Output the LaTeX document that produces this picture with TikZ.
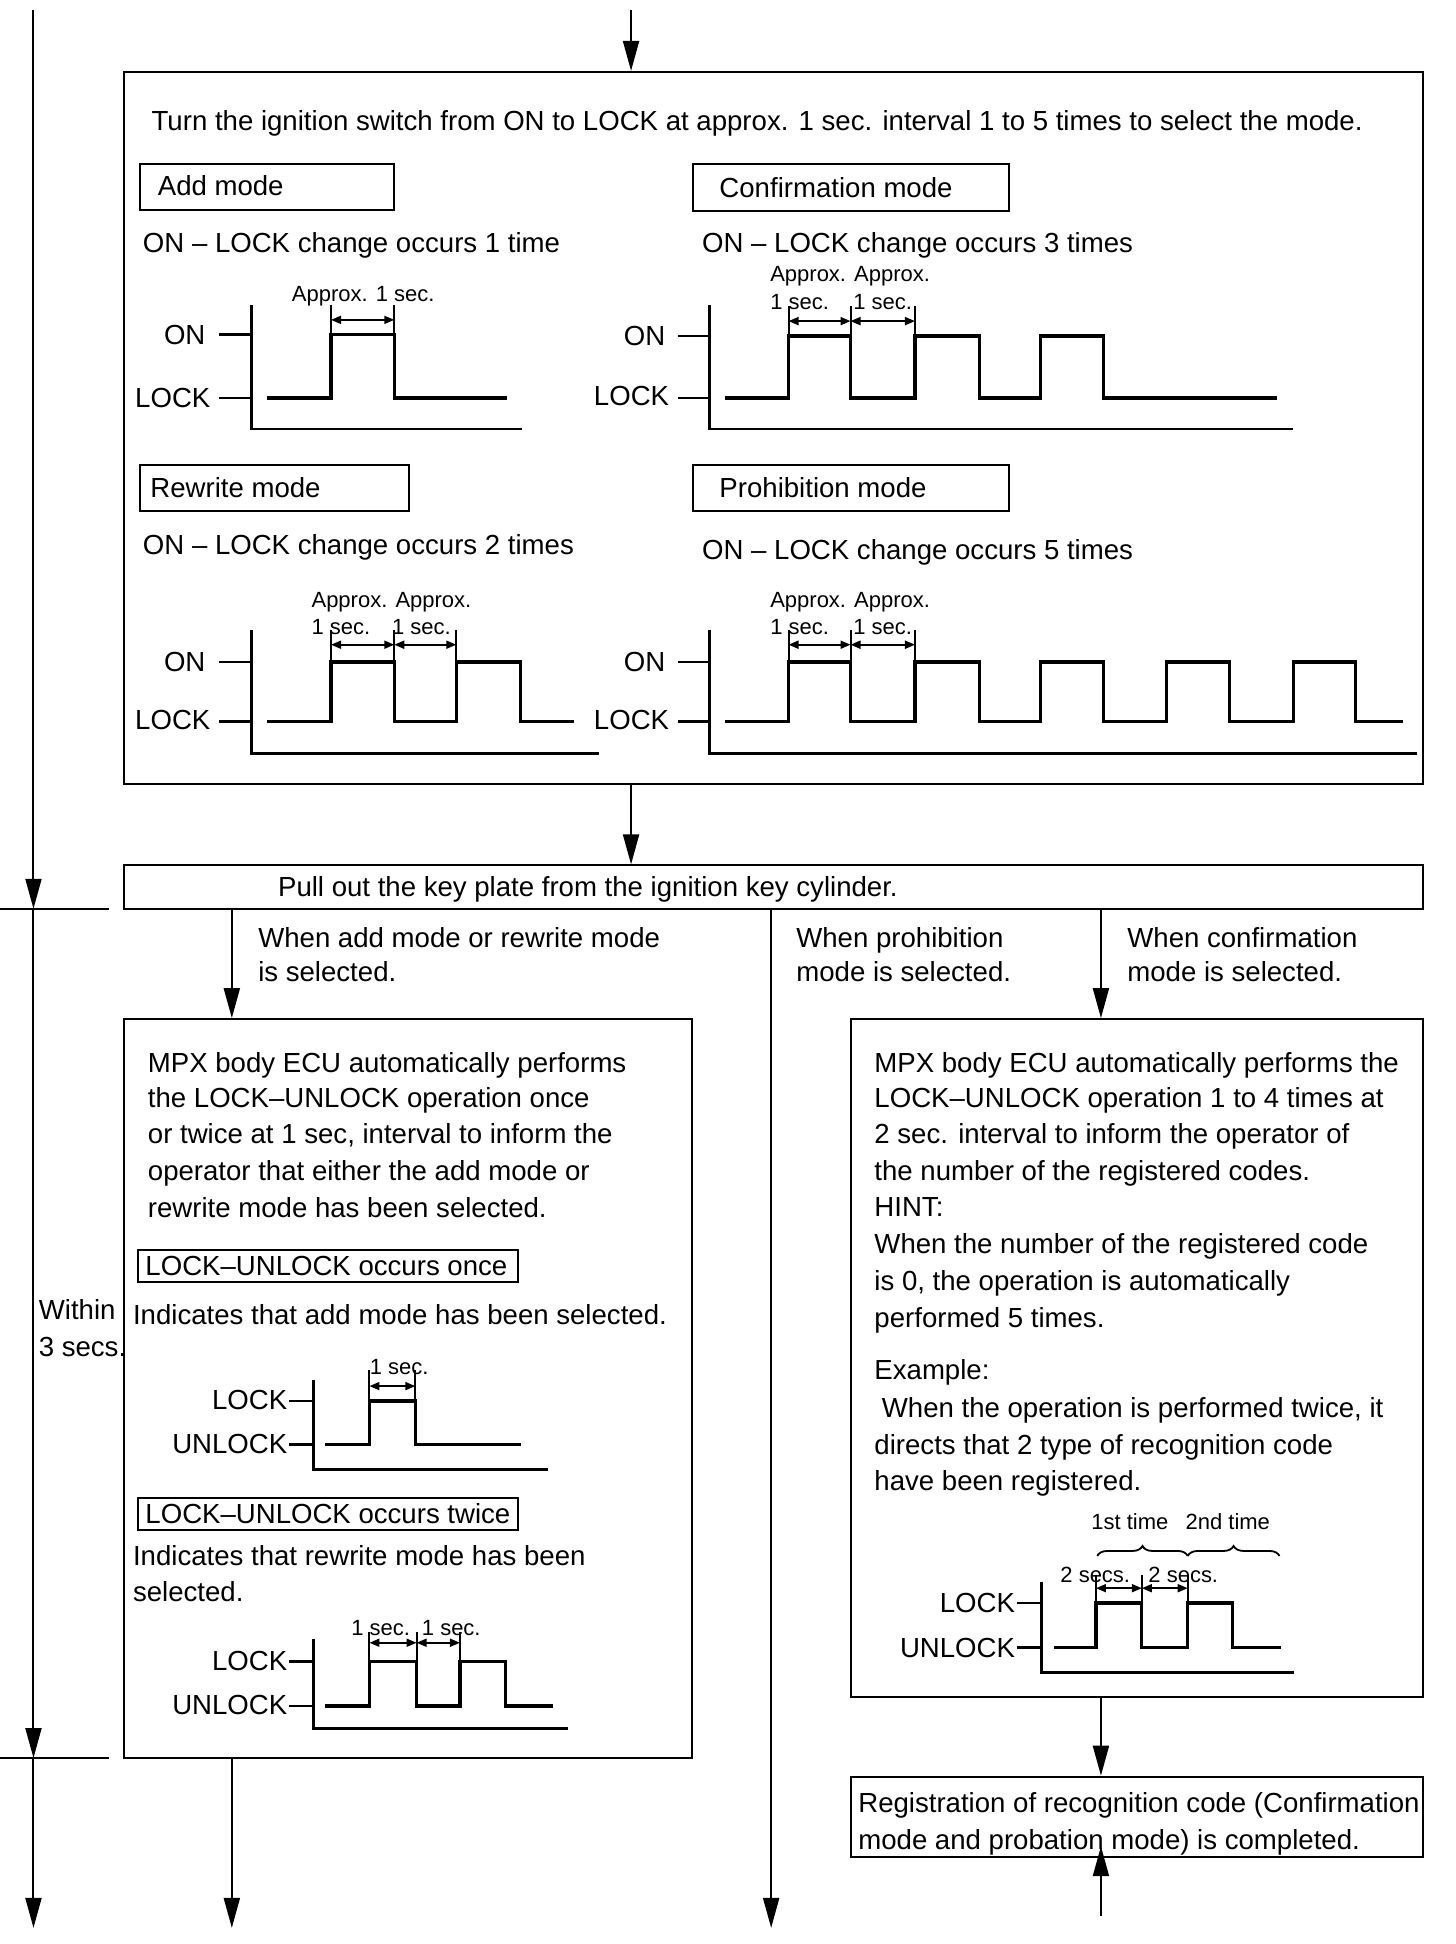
\documentclass[tikz,border=0pt]{standalone}
\usepackage{fontspec}
\setmainfont{Liberation Sans}
\usetikzlibrary{arrows.meta,fit,decorations.pathreplacing}
\newcommand\fmain{\fontsize{13.8}{17}\selectfont}
\newcommand\fsmall{\fontsize{11}{13}\selectfont}
\tikzset{
  bx/.style={draw, line width=1pt, inner sep=0pt},
  tx/.style={anchor=base west, inner sep=0pt, font=\fmain},
  txr/.style={anchor=base east, inner sep=0pt, font=\fmain},
  sm/.style={anchor=base west, inner sep=0pt, font=\fsmall},
  conn/.style={line width=1pt, -{Triangle[length=15pt,width=8pt]}},
  plain/.style={line width=1pt},
  wave/.style={line width=1.6pt, line join=miter},
  axisl/.style={line width=1.4pt},
  mkline/.style={line width=1pt},
  dimarr/.style={line width=0.9pt, {Triangle[length=5pt,width=4pt]}-{Triangle[length=5pt,width=4pt]}},
  brc/.style={line width=0.9pt, decorate, decoration={brace, amplitude=5pt}}
}
\begin{document}
\begin{tikzpicture}[x=0.6201pt,y=-0.6201pt]
\useasboundingbox (0,0) rectangle (1174,1568);
% ---------- boxes
\node[bx, fit={(100,58)(1148,632)}] (main) {};
\node[bx, fit={(100,698)(1148,733)}] (key) {};
\node[bx, fit={(100,822)(558,1418)}] (ecuL) {};
\node[bx, fit={(686,822)(1148,1369)}] (ecuR) {};
\node[bx, fit={(686,1433)(1148,1498)}] (done) {};
\node[bx, fit={(113,132)(318,169)}] (addb) {};
\node[bx, fit={(559,132)(814,170)}] (confb) {};
\node[bx, fit={(113,375)(330,412)}] (rewb) {};
\node[bx, fit={(559,375)(814,412)}] (prohb) {};
\node[bx, fit={(111,1008)(418,1034)}] (onceb) {};
\node[bx, fit={(111,1208)(418,1234)}] (twiceb) {};
% ---------- connectors
\coordinate (tin) at (509,8);
\draw[conn] (tin) -- (tin |- main.north);
\draw[conn] (main.south -| tin) -- (key.north -| tin);
\coordinate (lin) at (27,8);
\coordinate (lA) at (27,733);
\coordinate (lB) at (27,1418);
\coordinate (lC) at (27,1555);
\draw[conn] (lin) -- (lA);
\draw[conn] (lA) -- (lB);
\draw[conn] (lB) -- (lC);
\coordinate (hA1) at (0,733); \coordinate (hA2) at (88,733);
\coordinate (hB1) at (0,1418); \coordinate (hB2) at (88,1418);
\draw[plain] (hA1) -- (hA2);
\draw[plain] (hB1) -- (hB2);
\coordinate (bL) at (187,0);
\coordinate (bLend) at (187,1555);
\draw[conn] (key.south -| bL) -- (ecuL.north -| bL);
\draw[conn] (ecuL.south -| bL) -- (bLend);
\coordinate (pend) at (622,1555);
\draw[conn] (key.south -| pend) -- (pend);
\coordinate (bR) at (888,0);
\draw[conn] (key.south -| bR) -- (ecuR.north -| bR);
\draw[conn] (ecuR.south -| bR) -- (done.north -| bR);
\coordinate (upin) at (888,1545);
\coordinate (dbot) at ([yshift=6pt]done.south);
\draw[conn] (upin) -- (dbot -| upin);
% ---------- top box texts
\node[tx] (t1) at (122,105) {Turn the ignition switch from ON to LOCK at approx. 1 sec. interval 1 to 5 times to select the mode.};
\node[tx] (tadd) at (127,158) {Add mode};
\node[tx] (tconf) at (580,159) {Confirmation mode};
\node[tx] (trew) at (121,401) {Rewrite mode};
\node[tx] (tproh) at (580,401) {Prohibition mode};
\node[tx] (c1) at (115,204) {ON -- LOCK change occurs 1 time};
\node[tx] (c3) at (566,204) {ON -- LOCK change occurs 3 times};
\node[tx] (c2) at (115,447) {ON -- LOCK change occurs 2 times};
\node[tx] (c5) at (566,451) {ON -- LOCK change occurs 5 times};
% ---------- Add mode chart
\draw[axisl] (203,246) -- (203,346) -- (421,346);
\draw[axisl] (177,270) -- (203,270);
\draw[axisl] (177,321) -- (203,321);
\node[txr] (aon) at (166,278) {ON};
\node[txr] (alk) at (170,329) {LOCK};
\draw[wave] (215,321) -- (267,321) -- (267,270) -- (318,270) -- (318,321) -- (409,321);
\draw[mkline] (267,246) -- (267,270);
\draw[mkline] (318,246) -- (318,270);
\draw[dimarr] (267,258) -- (318,258);
\node[sm, anchor=base] (aap) at (293,243) {Approx. 1 sec.};
% ---------- Confirmation chart
\draw[axisl] (572,246) -- (572,346) -- (1043,346);
\draw[axisl] (547,271) -- (572,271);
\draw[axisl] (547,321) -- (572,321);
\node[txr] (con) at (537,279) {ON};
\node[txr] (clk) at (540,327) {LOCK};
\draw[wave] (585,321) -- (636,321) -- (636,271) -- (686,271) -- (686,321) -- (738,321) -- (738,271) -- (790,271) -- (790,321) -- (839,321) -- (839,271) -- (890,271) -- (890,321) -- (1030,321);
\draw[mkline] (636,247) -- (636,271);
\draw[mkline] (686,247) -- (686,271);
\draw[mkline] (738,247) -- (738,271);
\draw[dimarr] (636,259) -- (686,259);
\draw[dimarr] (686,259) -- (738,259);
\node[sm] (cap) at (621,227) {Approx. Approx.};
\node[sm] (cs1) at (621,250) {1 sec.};
\node[sm] (cs2) at (688,250) {1 sec.};
% ---------- Rewrite chart
\draw[axisl] (203,508) -- (203,608) -- (483,608);
\draw[axisl] (177,534) -- (203,534);
\draw[axisl] (177,582) -- (203,582);
\node[txr] (ron) at (166,542) {ON};
\node[txr] (rlk) at (170,588) {LOCK};
\draw[wave] (215,582) -- (267,582) -- (267,534) -- (318,534) -- (318,582) -- (368,582) -- (368,534) -- (420,534) -- (420,582) -- (463,582);
\draw[mkline] (267,508) -- (267,534);
\draw[mkline] (318,508) -- (318,534);
\draw[mkline] (368,508) -- (368,534);
\draw[dimarr] (267,520) -- (318,520);
\draw[dimarr] (318,520) -- (368,520);
\node[sm] (rap) at (251,490) {Approx. Approx.};
\node[sm] (rs1) at (251,512) {1 sec.};
\node[sm] (rs2) at (316,512) {1 sec.};
% ---------- Prohibition chart
\draw[axisl] (572,508) -- (572,608) -- (1143,608);
\draw[axisl] (547,534) -- (572,534);
\draw[axisl] (547,582) -- (572,582);
\node[txr] (pon) at (537,542) {ON};
\node[txr] (plk) at (540,588) {LOCK};
\draw[wave] (585,582) -- (636,582) -- (636,534) -- (686,534) -- (686,582) -- (738,582) -- (738,534) -- (790,534) -- (790,582) -- (839,582) -- (839,534) -- (890,534) -- (890,582) -- (941,582) -- (941,534) -- (992,534) -- (992,582) -- (1043,582) -- (1043,534) -- (1093,534) -- (1093,582) -- (1132,582);
\draw[mkline] (636,508) -- (636,534);
\draw[mkline] (686,508) -- (686,534);
\draw[mkline] (738,508) -- (738,534);
\draw[dimarr] (636,520) -- (686,520);
\draw[dimarr] (686,520) -- (738,520);
\node[sm] (pap) at (621,490) {Approx. Approx.};
\node[sm] (ps1) at (621,512) {1 sec.};
\node[sm] (ps2) at (688,512) {1 sec.};
% ---------- key plate and branch labels
\node[tx] (tkey) at (224,723) {Pull out the key plate from the ignition key cylinder.};
\node[tx] (w1a) at (208,764) {When add mode or rewrite mode};
\node[tx] (w1b) at (208,792) {is selected.};
\node[tx] (w2a) at (642,764) {When prohibition};
\node[tx] (w2b) at (642,792) {mode is selected.};
\node[tx] (w3a) at (909,764) {When confirmation};
\node[tx] (w3b) at (909,792) {mode is selected.};
% ---------- left ECU box
\node[tx] (l1) at (119,865) {MPX body ECU automatically performs};
\node[tx] (l2) at (119,893) {the LOCK--UNLOCK operation once};
\node[tx] (l3) at (119,922) {or twice at 1 sec, interval to inform the};
\node[tx] (l4) at (119,952) {operator that either the add mode or};
\node[tx] (l5) at (119,982) {rewrite mode has been selected.};
\node[tx] (lonce) at (117,1029) {LOCK--UNLOCK occurs once};
\node[tx] (lind1) at (107,1068) {Indicates that add mode has been selected.};
\node[tx] (wi1) at (31,1064) {Within};
\node[tx] (wi2) at (31,1094) {3 secs.};
\draw[axisl] (253,1113) -- (253,1185) -- (442,1185);
\draw[axisl] (233,1130) -- (253,1130);
\draw[axisl] (233,1165) -- (253,1165);
\node[txr] (k1l) at (232,1137) {LOCK};
\node[txr] (k1u) at (232,1172) {UNLOCK};
\draw[wave] (262,1165) -- (298,1165) -- (298,1130) -- (335,1130) -- (335,1165) -- (420,1165);
\draw[mkline] (298,1105) -- (298,1130);
\draw[mkline] (335,1105) -- (335,1130);
\draw[dimarr] (298,1118) -- (335,1118);
\node[sm] (k1s) at (298,1109) {1 sec.};
\node[tx] (ltwice) at (117,1229) {LOCK--UNLOCK occurs twice};
\node[tx] (lind2a) at (107,1263) {Indicates that rewrite mode has been};
\node[tx] (lind2b) at (107,1292) {selected.};
\draw[axisl] (253,1322) -- (253,1394) -- (458,1394);
\draw[axisl] (233,1340) -- (253,1340);
\draw[axisl] (233,1376) -- (253,1376);
\node[txr] (k2l) at (232,1347) {LOCK};
\node[txr] (k2u) at (232,1383) {UNLOCK};
\draw[wave] (262,1376) -- (298,1376) -- (298,1340) -- (336,1340) -- (336,1376) -- (371,1376) -- (371,1340) -- (408,1340) -- (408,1376) -- (446,1376);
\draw[mkline] (298,1316) -- (298,1340);
\draw[mkline] (336,1316) -- (336,1340);
\draw[mkline] (371,1316) -- (371,1340);
\draw[dimarr] (298,1325) -- (336,1325);
\draw[dimarr] (336,1325) -- (371,1325);
\node[sm] (k2s1) at (283,1319) {1 sec.};
\node[sm] (k2s2) at (340,1319) {1 sec.};
% ---------- right ECU box
\node[tx] (r1) at (705,865) {MPX body ECU automatically performs the};
\node[tx] (r2) at (705,893) {LOCK--UNLOCK operation 1 to 4 times at};
\node[tx] (r3) at (705,922) {2 sec. interval to inform the operator of};
\node[tx] (r4) at (705,952) {the number of the registered codes.};
\node[tx] (r5) at (705,981) {HINT:};
\node[tx] (r6) at (705,1011) {When the number of the registered code};
\node[tx] (r7) at (705,1041) {is 0, the operation is automatically};
\node[tx] (r8) at (705,1071) {performed 5 times.};
\node[tx] (r9) at (705,1113) {Example:};
\node[tx] (r10) at (711,1143) {When the operation is performed twice, it};
\node[tx] (r11) at (705,1173) {directs that 2 type of recognition code};
\node[tx] (r12) at (705,1202) {have been registered.};
\node[sm] (st1) at (880,1234) {1st time};
\node[sm] (st2) at (956,1234) {2nd time};
\draw[brc] (885,1255) -- (958,1255);
\draw[brc] (958,1255) -- (1032,1255);
\node[sm] (s2a) at (855,1276) {2 secs.};
\node[sm] (s2b) at (926,1276) {2 secs.};
\draw[axisl] (840,1276) -- (840,1349) -- (1044,1349);
\draw[axisl] (820,1293) -- (840,1293);
\draw[axisl] (820,1329) -- (840,1329);
\node[txr] (k3l) at (819,1301) {LOCK};
\node[txr] (k3u) at (819,1337) {UNLOCK};
\draw[wave] (850,1329) -- (884,1329) -- (884,1293) -- (921,1293) -- (921,1329) -- (958,1329) -- (958,1293) -- (994,1293) -- (994,1329) -- (1033,1329);
\draw[mkline] (884,1270) -- (884,1293);
\draw[mkline] (921,1270) -- (921,1293);
\draw[mkline] (958,1270) -- (958,1293);
\draw[dimarr] (884,1281) -- (921,1281);
\draw[dimarr] (921,1281) -- (958,1281);
% ---------- final box
\node[tx] (f1) at (692,1462) {Registration of recognition code (Confirmation};
\node[tx] (f2) at (692,1492) {mode and probation mode) is completed.};
\end{tikzpicture}
\end{document}
